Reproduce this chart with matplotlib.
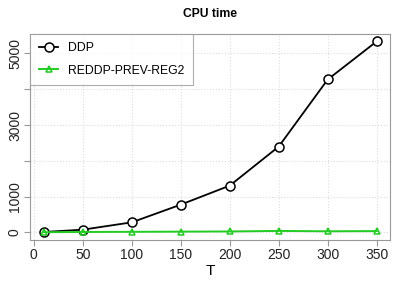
import matplotlib
matplotlib.use("Agg")
import matplotlib.pyplot as plt
from matplotlib import font_manager

T = [10, 50, 100, 150, 200, 250, 300, 350]
ddp = [10, 75, 280, 775, 1306, 2397, 4272, 5336]
reddp = [5, 10, 15, 20, 25, 40, 30, 35]
xticks = [0, 50, 100, 150, 200, 250, 300, 350]
yticks = [0, 1000, 2000, 3000, 4000, 5000]
ylabels = ["0", "1000", "", "3000", "", "5000"]

names = {f.name for f in font_manager.fontManager.ttflist}
narrow = "Liberation Sans Narrow" if "Liberation Sans Narrow" in names else "Liberation Sans"

fig = plt.figure(figsize=(4.05, 2.84), dpi=100)
ax = fig.add_axes([0.0748, 0.155, 0.963 - 0.0748, 0.881 - 0.155])

ax.plot(T, ddp, color="black", lw=1.3, marker="o", ms=6.5, mfc="white",
        mec="black", mew=1.1, label="DDP", zorder=3)
ax.plot(T, reddp, color="#22cc22", lw=1.4, marker="^", ms=4.5, mfc="none",
        mec="#22cc22", mew=1.1, label="REDDP-PREV-REG2", zorder=4)

ax.set_xlim(-3.6, 363.6)
ax.set_ylim(-213, 5549)
ax.set_xticks(xticks)
ax.set_yticks(yticks)
ax.set_xticklabels([str(v) for v in xticks], fontsize=10, family=narrow)
ax.set_yticklabels(ylabels, fontsize=10, family=narrow, rotation=90, va="center")
ax.grid(True, color="#dddddd", ls=":", lw=0.8)
ax.set_axisbelow(True)
for s in ax.spines.values():
    s.set_color("#999999")
ax.tick_params(colors="#999999", labelcolor="#222222", length=4, width=0.8, pad=2)

ax.set_xlabel("T", fontsize=11, family=narrow, labelpad=1)
ax.set_title("CPU time", fontsize=8.7, fontweight="bold", family="Liberation Sans", pad=12)

leg = ax.legend(loc="upper left", borderaxespad=0, fancybox=False, frameon=True,
                prop={"family": narrow, "size": 8.8}, handlelength=1.6,
                handletextpad=0.8, borderpad=0.7, labelspacing=0.85)
leg.get_frame().set_edgecolor("#999999")
leg.get_frame().set_linewidth(0.8)

fig.savefig("out.png", dpi=100)
